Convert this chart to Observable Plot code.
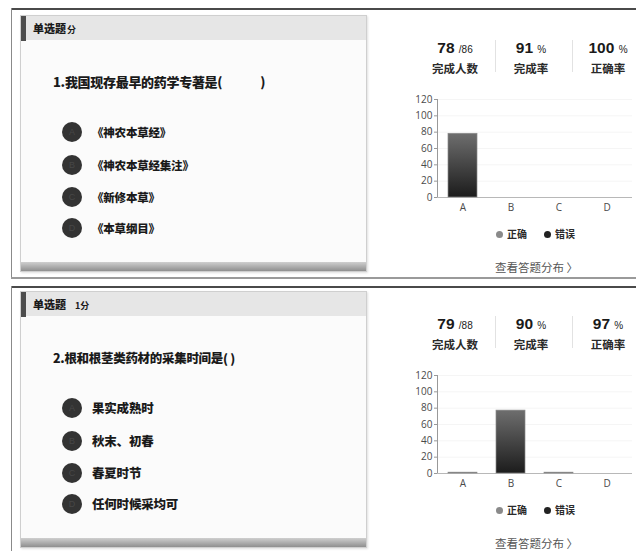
<!DOCTYPE html>
<html><head><meta charset="utf-8">
<script src="https://cdn.jsdelivr.net/npm/d3@7"></script>
<script src="https://cdn.jsdelivr.net/npm/@observablehq/plot@0.6"></script>
<style>
html,body{margin:0;padding:0;background:#fff;}
#page{position:relative;width:636px;height:551px;overflow:hidden;font-family:"Noto Sans CJK SC","Noto Sans",sans-serif;color:#1a1a1a;}
#page div{position:absolute;box-sizing:border-box;white-space:nowrap;}
.card{background:#fbfbfb;border:1px solid #cfcfcf;box-shadow:1px 1px 2px rgba(0,0,0,0.12);}
.head{left:0;top:0;right:0;height:24px;background:#e6e6e6;}
.accent{left:0;top:0;width:5px;height:25px;background:#4d4d4d;}
.foot{left:0;right:0;bottom:0;height:9px;background:linear-gradient(#cfcfcf,#8f8f8f);}
.dot{border-radius:50%;background:#333;color:#474747;font:9px "Liberation Sans",sans-serif;text-align:center;}
.chart svg text{fill:#4a4a4a;}
</style></head><body><div id="page"></div>
<script>
// answer categories and per-question answer counts
const categories = ["A", "B", "C", "D"];
const yTicks = [0, 20, 40, 60, 80, 100, 120];
const q1Counts = [78, 0, 0, 0];
const q2Counts = [1, 77, 1, 0];

// question texts
const sectionLabels = ["单选题", "单选题"];
const scoreLabels = ["分", "1分"];
const questionTitles = ["1.我国现存最早的药学专著是(\u3000\u3000\u3000)", "2.根和根茎类药材的采集时间是( )"];
const q1Options = ["《神农本草经》", "《神农本草经集注》", "《新修本草》", "《本草纲目》"];
const q2Options = ["果实成熟时", "秋末、初春", "春夏时节", "任何时候采均可"];

// summary statistics
const answered = [78, 79];
const enrolled = [86, 88];
const completionRate = [91, 90];
const correctRate = [100, 97];
const statLabels = ["完成人数", "完成率", "正确率"];
const legendLabels = ["正确", "错误"];
const linkText = "查看答题分布 〉";

const page = document.getElementById("page");

function box(left, top, width, height, css = "", cls = "") {
  const d = document.createElement("div");
  d.className = cls;
  d.style.cssText = `left:${left}px;top:${top}px;` + (width != null ? `width:${width}px;` : "") + (height != null ? `height:${height}px;` : "") + css;
  page.appendChild(d);
  return d;
}
function text(str, left, cy, size, css = "", h = 20) {
  const d = box(left, cy - h / 2, null, h, `line-height:${h}px;font-size:${size}px;` + css);
  d.textContent = str;
  return d;
}
function ctext(html, cx, cy, size, css = "", w = 90, h = 20) {
  const d = box(cx - w / 2, cy - h / 2, w, h, `line-height:${h}px;font-size:${size}px;text-align:center;` + css);
  d.innerHTML = html;
  return d;
}

function chart(counts, gradId) {
  const data = categories.map((c, i) => ({cat: c, n: counts[i]}));
  const svg = Plot.plot({
    width: 231,
    height: 129,
    marginLeft: 32,
    marginRight: 4,
    marginTop: 9,
    marginBottom: 22,
    style: {fontFamily: "'Open Sans', sans-serif", fontSize: "10px", color: "#999", background: "transparent", overflow: "visible"},
    x: {domain: categories, paddingInner: 0.4, paddingOuter: 0.2, tickSize: 0, tickPadding: 6, label: null},
    y: {domain: [0, 120], ticks: yTicks, grid: true, tickSize: 3, tickPadding: 2, label: null, line: true},
    marks: [
      Plot.ruleY([0], {stroke: "#b8b8b8"}),
      Plot.barY(data, {x: "cat", y: "n", fill: `url(#${gradId})`, stroke: "#8a8a8a", strokeWidth: 0.7})
    ]
  });
  const grad = d3.select(svg).insert("defs", ":first-child")
    .append("linearGradient").attr("id", gradId)
    .attr("x1", 0).attr("y1", 0).attr("x2", 0).attr("y2", 1);
  grad.append("stop").attr("offset", "0%").attr("stop-color", "#6e6e6e");
  grad.append("stop").attr("offset", "100%").attr("stop-color", "#1c1c1c");
  return svg;
}

const panels = [
  {dy: 0, lineTop: 8, options: q1Options, counts: q1Counts, optSize: 11.5},
  {dy: 276, lineTop: 10, options: q2Options, counts: q2Counts, optSize: 12.5}
];

panels.forEach((p, i) => {
  const dy = p.dy;
  // outer frame lines
  box(11, dy + p.lineTop, 625, 2, "background:#4a4a4a;");
  box(11, dy + p.lineTop, 1, i === 0 ? 270 : 551 - dy - p.lineTop, "background:#8a8a8a;");
  if (i === 0) box(11, 277, 625, 2, "background:#9a9a9a;");

  // question card
  const card = box(20, dy + 15, 347, 257, "", "card");
  ["head", "accent", "foot"].forEach(c => {
    const d = document.createElement("div");
    d.className = c;
    card.appendChild(d);
  });
  const h = text("", 33, dy + 28, 11, "font-weight:900;");
  h.innerHTML = `${sectionLabels[i]}<span style="font-size:9px;font-weight:700;margin-left:${i ? 9 : 1}px">${scoreLabels[i]}</span>`;

  text(questionTitles[i], 53, dy + 82, i ? 12.5 : 13, "font-weight:900;letter-spacing:-0.3px;");
  const optY = [132, 165, 197, 228];
  p.options.forEach((o, k) => {
    const c = box(62, dy + optY[k] - 10, 20, 20, "line-height:20px;", "dot");
    c.textContent = categories[k];
    text(o, 92, dy + optY[k], p.optSize, "font-weight:900;letter-spacing:-0.2px;");
  });

  // statistics
  const cols = [455, 531, 608];
  const nums = [
    `${answered[i]} <span style="font-size:10px;font-weight:400">/${enrolled[i]}</span>`,
    `${completionRate[i]} <span style="font-size:10px;font-weight:400">%</span>`,
    `${correctRate[i]} <span style="font-size:10px;font-weight:400">%</span>`
  ];
  cols.forEach((cx, k) => {
    ctext(nums[k], cx, dy + 48, 15.5, "font-family:'Liberation Sans',Arial,sans-serif;font-weight:700;color:#1a1a1a;");
    ctext(statLabels[k], cx, dy + 68, 11.5, "font-weight:700;color:#2a2a2a;");
  });
  [495, 572].forEach(x => box(x, dy + 40, 1, 32, "background:#e2e2e2;"));

  // distribution chart
  const holder = box(405, dy + 90, 231, 129, "", "chart");
  holder.appendChild(chart(p.counts, "barGrad" + i));

  // legend
  const lg = box(496, dy + 234 - 8, 100, 16, "line-height:16px;font-size:10px;font-weight:700;color:#2a2a2a;");
  lg.innerHTML =
    `<span style="display:inline-block;width:7px;height:7px;border-radius:50%;background:#8a8a8a;margin-right:4px;vertical-align:0"></span>${legendLabels[0]}` +
    `<span style="display:inline-block;width:7px;height:7px;border-radius:50%;background:#222;margin:0 4px 0 17px;vertical-align:0"></span>${legendLabels[1]}`;

  text(linkText, 495, dy + 267, 11.5, "color:#555;");
});
</script>
</body></html>
